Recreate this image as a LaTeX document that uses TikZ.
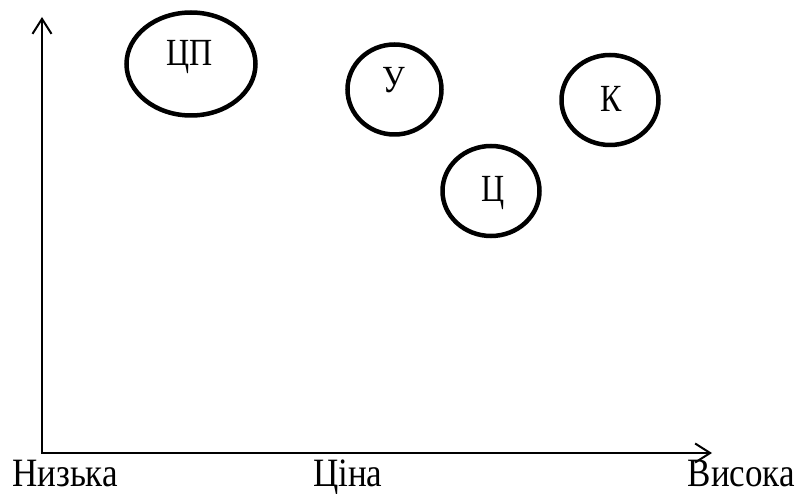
\documentclass[tikz,border=0pt]{standalone}
\usepackage{fontspec}
\usepackage{graphicx}
\setmainfont{Liberation Serif}
\usetikzlibrary{arrows.meta,shapes.geometric}
\newcommand{\tallt}[1]{\scalebox{1}[1.2]{#1}}
\newcommand{\tallb}[1]{\scalebox{1}[1.15]{#1}}
\begin{document}
\begin{tikzpicture}[x=1pt,y=-1pt,
  oval/.style={draw,ellipse,line width=4.5pt,inner sep=0pt},
  lbl/.style={font=\fontsize{32}{36}\selectfont,inner sep=0pt,anchor=base},
  axlbl/.style={font=\fontsize{35}{40}\selectfont,inner sep=0pt},
  axis/.style={line width=2pt,-{Straight Barb[length=15pt,width=19pt,line width=2pt]}}]
\useasboundingbox (0,0) rectangle (796,494);
\coordinate (o) at (42,453);
\coordinate (ytop) at (42,17);
\coordinate (xend) at (712,453);
\draw[axis] (o) -- (ytop);
\draw[axis] ([xshift=-1pt]o) -- (xend);
\node[oval,minimum width=129pt,minimum height=103pt] (cp) at (191,64) {};
\node[oval,minimum width=94pt,minimum height=90pt] (u) at (394.5,89.5) {};
\node[oval,minimum width=97pt,minimum height=90pt] (k) at (610,100) {};
\node[oval,minimum width=97pt,minimum height=90pt] (c) at (491,191) {};
\node[lbl] (cpt) at (190,66) {\tallt{ЦП}};
\node[lbl] (ut) at (394,93) {\tallt{У}};
\node[lbl] (kt) at (611.5,112) {\tallt{К}};
\node[lbl] (ct) at (493,202) {\tallt{Ц}};
\node[axlbl,anchor=base west] (low) at (12,486) {\tallb{Низька}};
\node[axlbl,anchor=base west] (price) at (313,486) {\tallb{Ціна}};
\node[axlbl,anchor=base east] (high) at (795,486) {\tallb{Висока}};
\end{tikzpicture}
\end{document}
